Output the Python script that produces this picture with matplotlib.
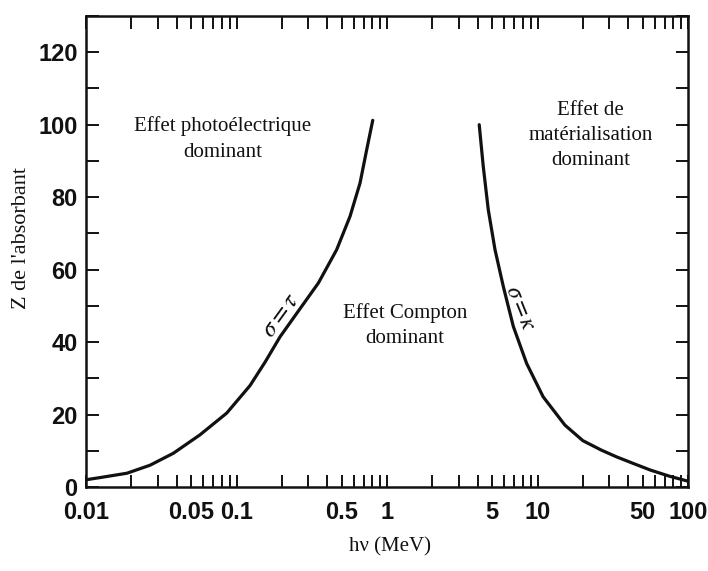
import matplotlib
matplotlib.use("Agg")
import matplotlib.pyplot as plt
import numpy as np
from matplotlib.ticker import FixedLocator, LogLocator, NullFormatter, MultipleLocator

plt.rcParams['mathtext.fontset'] = 'stix'

#%% values
# sigma = tau border (photo / Compton)
e_tau = [0.01, 0.0124, 0.0187, 0.0266, 0.038, 0.0572, 0.0861, 0.123, 0.155, 0.195, 0.251,
         0.350, 0.463, 0.568, 0.662, 0.733, 0.804]
z_tau = [2.0, 2.6, 3.8, 6.0, 9.3, 14.4, 20.4, 28.0, 34.5, 41.5, 47.9,
         56.3, 65.5, 74.7, 83.9, 93.1, 101.2]
# sigma = kappa border (Compton / pair production)
e_kap = [4.10, 4.36, 4.71, 5.22, 5.93, 6.91, 8.47, 10.9, 15.2, 20.0, 26.5, 33.6, 43.3, 56.0, 75.0, 100.0]
z_kap = [100.0, 88.5, 76.5, 65.5, 55.3, 44.3, 34.1, 24.9, 17.1, 12.8, 10.2, 8.3, 6.5, 4.7, 3.0, 1.6]

xtick_vals = [0.01, 0.05, 0.1, 0.5, 1, 5, 10, 50, 100]
xtick_labels = ['0.01', '0.05', '0.1', '0.5', '1', '5', '10', '50', '100']
ytick_vals = [0, 20, 40, 60, 80, 100, 120]

ink = '#111111'
serif = ['Liberation Serif', 'DejaVu Serif']
narrow = ['Liberation Sans Narrow', 'Liberation Sans', 'DejaVu Sans']

#%%
fig = plt.figure(figsize=(7.08, 5.71), dpi=100)
ax = fig.add_axes([86/708, 1-487/571, 602/708, 471/571])

ax.plot(e_tau, z_tau, color=ink, linewidth=2.3, solid_capstyle='round', solid_joinstyle='round')
ax.plot(e_kap, z_kap, color=ink, linewidth=2.3, solid_capstyle='round', solid_joinstyle='round')

ax.set_xscale('log')
ax.set_xlim(0.01, 100)
ax.set_ylim(0, 130)

ax.xaxis.set_major_locator(FixedLocator(xtick_vals))
ax.set_xticklabels(xtick_labels)
ax.xaxis.set_minor_locator(LogLocator(base=10, subs=np.arange(1, 10), numticks=20))
ax.xaxis.set_minor_formatter(NullFormatter())
ax.yaxis.set_major_locator(FixedLocator(ytick_vals))
ax.yaxis.set_minor_locator(MultipleLocator(10))

ax.tick_params(which='both', direction='in', top=True, right=True, length=9, width=1.4, color=ink)
ax.tick_params(axis='x', which='major', pad=10)
ax.tick_params(axis='y', which='major', pad=6)
for lab in ax.get_xticklabels() + ax.get_yticklabels():
    lab.set_fontfamily(narrow)
    lab.set_fontsize(17)
    lab.set_fontweight('bold')
    lab.set_color(ink)

for sp in ax.spines.values():
    sp.set_linewidth(1.8)
    sp.set_color(ink)

#%% region labels
ax.text(0.0813, 96, 'Effet photoélectrique\ndominant', ha='center', va='center',
        fontsize=15, family=serif, color=ink, linespacing=1.45)
ax.text(22.6, 97, 'Effet de\nmatérialisation\ndominant', ha='center', va='center',
        fontsize=15, family=serif, color=ink, linespacing=1.45)
ax.text(1.32, 44.5, 'Effet Compton\ndominant', ha='center', va='center',
        fontsize=15, family=serif, color=ink, linespacing=1.45)

ax.text(0.1945, 47.5, r'$\sigma=\tau$', ha='center', va='center', rotation=54,
        rotation_mode='anchor', fontsize=18, color=ink)
ax.text(7.76, 49.4, r'$\sigma=\kappa$', ha='center', va='center', rotation=-68,
        rotation_mode='anchor', fontsize=17, color=ink)

fig.text(22/708, 1-238/571, "Z de l'absorbant", rotation=90, ha='center', va='center',
         fontsize=16, family=serif, color=ink)
fig.text(390/708, 1-547/571, 'hν (MeV)', ha='center', va='center',
         fontsize=15, family=serif, color=ink)

fig.savefig('out.png', dpi=100)
